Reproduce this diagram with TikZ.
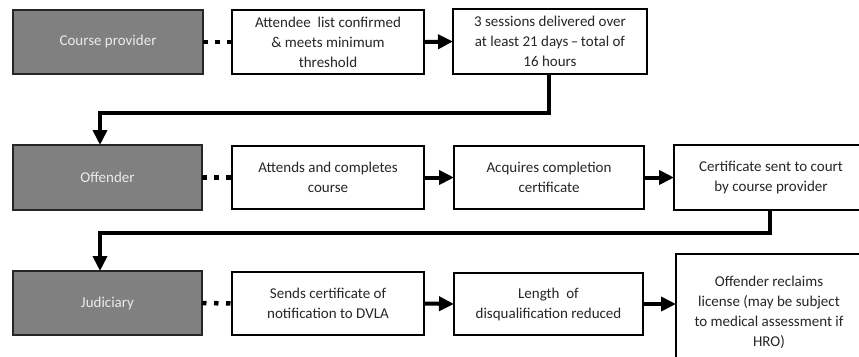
\documentclass[tikz,border=0pt]{standalone}
\usepackage{fontspec}
\setmainfont{Carlito}
\usetikzlibrary{arrows.meta}
\begin{document}
\begin{tikzpicture}[x=1pt,y=-1pt,
  font=\fontsize{15}{20}\selectfont,
  rolebox/.style={draw=black!85, line width=2pt, fill=black!50, text=white!92!black,
    inner sep=0pt, outer sep=0pt, align=center},
  stepbox/.style={draw=black, line width=2pt, fill=white, text=black!85,
    inner sep=0pt, outer sep=0pt, align=center},
  flow/.style={line width=4pt, -{Triangle[length=15pt,width=14pt]}, line join=miter},
  link/.style={line width=4.5pt, dash pattern=on 4.5pt off 7.5pt}
]
\useasboundingbox (0,0) rectangle (859,356);
\clip (0,0) rectangle (859,356);

% Row 1: course provider
\node[rolebox, minimum width=190pt, minimum height=64pt] (cp) at (108,42) {Course provider};
\node[stepbox, minimum width=192pt, minimum height=64pt] (a1) at (328,42)
  {Attendee\ \ list confirmed\\ \& meets minimum\\ threshold};
\node[stepbox, minimum width=194pt, minimum height=65pt] (a2) at (550,41.5)
  {3 sessions delivered over\\ at least 21 days\,--\,total of\\ 16 hours};

% Row 2: offender
\node[rolebox, minimum width=189pt, minimum height=65pt] (off) at (107.5,177.5) {Offender};
\node[stepbox, minimum width=192pt, minimum height=63pt] (b1) at (328,177.5)
  {Attends and completes\\ course};
\node[stepbox, minimum width=190pt, minimum height=63pt] (b2) at (549,177.5)
  {Acquires completion\\ certificate};
\node[stepbox, minimum width=194pt, minimum height=65pt] (b3) at (771,177.5)
  {Certificate sent to court\\ by course provider};

% Row 3: judiciary
\node[rolebox, minimum width=189pt, minimum height=64pt] (jud) at (107.5,303) {Judiciary};
\node[stepbox, minimum width=192pt, minimum height=63pt] (c1) at (328,303.5)
  {Sends certificate of\\ notification to DVLA};
\node[stepbox, minimum width=189pt, minimum height=62pt] (c2) at (548.5,304)
  {Length\ \ of\\ disqualification reduced};
\node[stepbox, minimum width=186pt, minimum height=116pt] (c3) at (769,312)
  {Offender reclaims\\ license (may be subject\\ to medical assessment if\\ HRO)};

% Routing points for the row-to-row returns
\coordinate (r1a) at (549,113);
\coordinate (r1b) at (100,113);
\coordinate (r2a) at (770,233);
\coordinate (r2b) at (100,233);

% Dotted links from each role to its first step
\draw[link] (cp.east) -- (a1.west);
\draw[link] (off.east) -- (b1.west);
\draw[link] (jud.east) -- (c1.west);

% Arrows within each row
\draw[flow] (a1.east) -- (a2.west);
\draw[flow] (b1.east) -- (b2.west);
\draw[flow] (b2.east) -- (b3.west);
\draw[flow] (c1.east) -- (c2.west);
\draw[flow] (c2.east) -- (c2.east -| c3.west);

% Returns to the next row
\draw[flow] (a2.south -| r1a) -- (r1a) -- (r1b) -- (r1b |- off.north);
\draw[flow] (b3.south -| r2a) -- (r2a) -- (r2b) -- (r2b |- jud.north);
\end{tikzpicture}
\end{document}
